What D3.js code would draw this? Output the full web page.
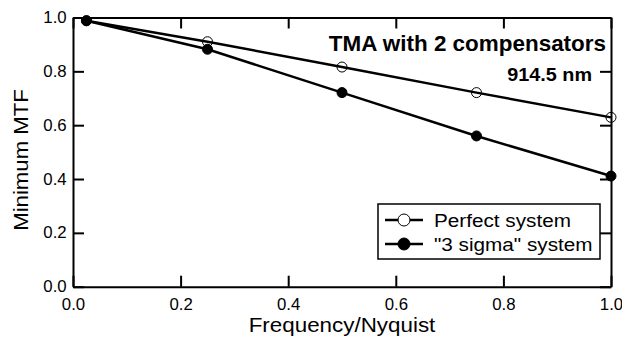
<!DOCTYPE html>
<html>
<head>
<meta charset="utf-8">
<script src="https://cdn.jsdelivr.net/npm/d3@7"></script>
<style>
  html, body { margin: 0; padding: 0; background: #fff; }
  svg { display: block; font-family: "Liberation Sans", Arial, Helvetica, sans-serif; }
</style>
</head>
<body>
<svg id="chart"></svg>
<script>
// Frequency (fraction of Nyquist) and minimum MTF for each system
var frequency = [0.025, 0.25, 0.5, 0.75, 1.0];
var perfectMTF = [0.988, 0.910, 0.816, 0.721, 0.629];
var sigmaMTF = [0.988, 0.882, 0.721, 0.560, 0.411];
var seriesNames = ["Perfect system", "\"3 sigma\" system"];
var tickValues = [0, 0.2, 0.4, 0.6, 0.8, 1.0];

var width = 622,
    height = 337;
var margin = {left: 73, right: 11, top: 17.5, bottom: 50.3};

var svg = d3.select("#chart")
  .attr("width", width)
  .attr("height", height);

var x = d3.scaleLinear().domain([0, 1]).range([margin.left, width - margin.right]);
var y = d3.scaleLinear().domain([0, 1]).range([height - margin.bottom, margin.top]);

var fmt = d3.format(".1f");
var tickLen = 11;

// the original lettering is a bit wider than Liberation Sans, so stretch it sideways
function label(parent, tx, ty, txt, size, sx, anchor, opts) {
  opts = opts || {};
  var g = parent.append("g")
    .attr("transform", "translate(" + tx + "," + ty + ")" +
      (opts.rotate ? " rotate(" + opts.rotate + ")" : "") + " scale(" + sx + ",1)");
  var t = g.append("text")
    .attr("text-anchor", anchor)
    .style("font-size", size + "px")
    .text(txt);
  if (opts.bold) t.style("font-weight", "bold");
  if (opts.dy) t.attr("dy", opts.dy);
  return t;
}

// bottom axis with labels, ticks pointing in
svg.append("g")
  .attr("class", "axis")
  .attr("transform", "translate(0," + y(0) + ")")
  .call(d3.axisBottom(x).tickValues(tickValues).tickFormat(fmt)
    .tickSizeInner(-tickLen).tickSizeOuter(0).tickPadding(12));

// left axis
svg.append("g")
  .attr("class", "axis")
  .attr("transform", "translate(" + x(0) + ",0)")
  .call(d3.axisLeft(y).tickValues(tickValues).tickFormat(fmt)
    .tickSizeInner(-tickLen).tickSizeOuter(0).tickPadding(6));

// top and right mirror axes, no labels
svg.append("g")
  .attr("class", "axis")
  .attr("transform", "translate(0," + y(1) + ")")
  .call(d3.axisTop(x).tickValues(tickValues).tickFormat("")
    .tickSizeInner(-tickLen).tickSizeOuter(0));

svg.append("g")
  .attr("class", "axis")
  .attr("transform", "translate(" + x(1) + ",0)")
  .call(d3.axisRight(y).tickValues(tickValues).tickFormat("")
    .tickSizeInner(-tickLen).tickSizeOuter(0));

svg.selectAll(".axis path, .axis line")
  .attr("stroke", "#000")
  .attr("stroke-width", 2);
svg.selectAll(".axis text")
  .attr("fill", "#000")
  .attr("transform", "scale(1.05,1)")
  .style("font-size", "16px");

// axis titles
label(svg, (x(0) + x(1)) / 2, 331.5, "Frequency/Nyquist", 20, 1.12, "middle");
label(svg, 27.5, 160, "Minimum MTF", 20, 1.11, "middle", {rotate: -90});

// annotations
label(svg, 606, 51, "TMA with 2 compensators", 22, 1.02, "end", {bold: true});
label(svg, 592, 80.5, "914.5 nm", 18, 1.1, "end", {bold: true});

// data lines
var line = d3.line()
  .x(function(d) { return x(d[0]); })
  .y(function(d) { return y(d[1]); });

var series = [
  {name: seriesNames[0], values: d3.zip(frequency, perfectMTF), fill: "#fff"},
  {name: seriesNames[1], values: d3.zip(frequency, sigmaMTF), fill: "#000"}
];

series.forEach(function(s) {
  svg.append("path")
    .datum(s.values)
    .attr("d", line)
    .attr("fill", "none")
    .attr("stroke", "#000")
    .attr("stroke-width", 2.5);
});

series.forEach(function(s) {
  svg.selectAll(null)
    .data(s.values)
    .enter().append("circle")
    .attr("cx", function(d) { return x(d[0]); })
    .attr("cy", function(d) { return y(d[1]); })
    .attr("r", 5)
    .attr("fill", s.fill === "#fff" ? "none" : "#000")
    .attr("stroke", "#000")
    .attr("stroke-width", 1);
});

// legend
var legend = svg.append("g").attr("transform", "translate(378,204)");
legend.append("rect")
  .attr("width", 222)
  .attr("height", 55)
  .attr("fill", "#fff")
  .attr("stroke", "#000")
  .attr("stroke-width", 1.5);

series.forEach(function(s, i) {
  var row = legend.append("g").attr("transform", "translate(0," + (16 + i * 24) + ")");
  row.append("line")
    .attr("x1", 7).attr("x2", 45)
    .attr("stroke", "#000").attr("stroke-width", 2.5);
  row.append("circle")
    .attr("cx", 26).attr("r", 6)
    .attr("fill", s.fill)
    .attr("stroke", "#000").attr("stroke-width", 1);
  label(row, 56, 0, s.name, 18.5, 1.12, "start", {dy: "0.36em"});
});
</script>
</body>
</html>
